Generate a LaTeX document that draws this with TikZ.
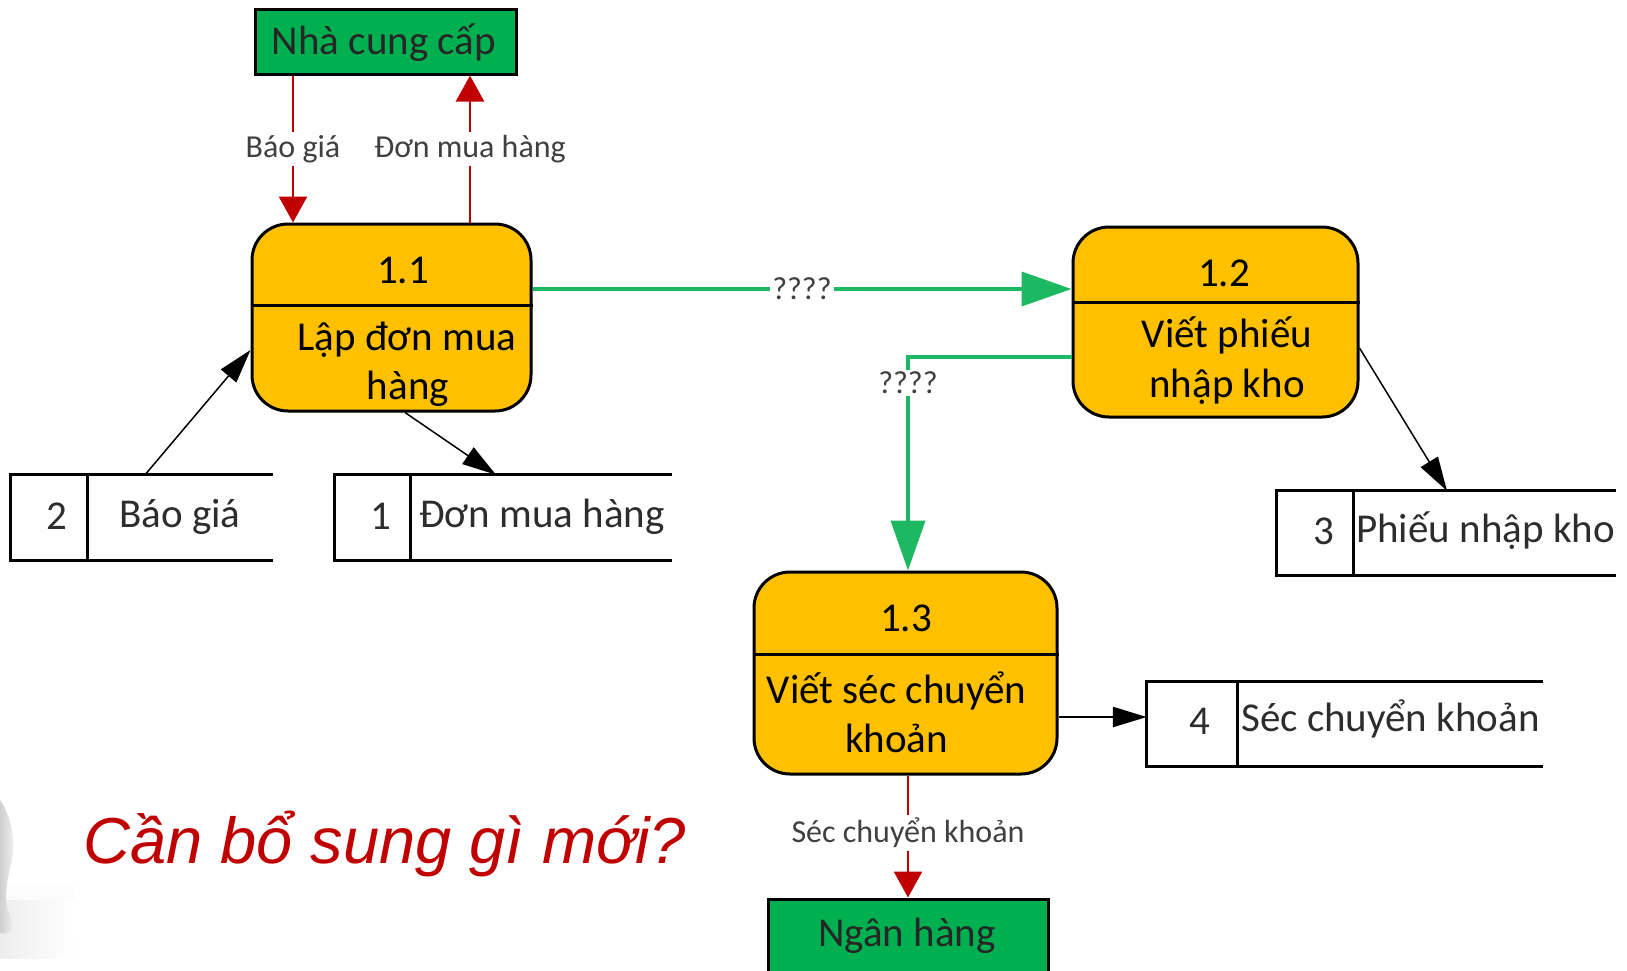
\documentclass[tikz,border=0pt]{standalone}
\usepackage{fontspec}
\setmainfont{Carlito}
\newfontfamily\qfont{Liberation Sans}
\usetikzlibrary{arrows.meta,calc}
\definecolor{procfill}{HTML}{FFC000}
\definecolor{extfill}{HTML}{00B050}
\definecolor{flowgreen}{HTML}{1DB862}
\definecolor{flowred}{HTML}{C00000}
\definecolor{labelgray}{HTML}{404040}
\begin{document}
\begin{tikzpicture}[x=1pt,y=-1pt,
  proc/.style={draw=black,line width=3pt,fill=procfill,rounded corners=36pt,inner sep=0pt},
  ext/.style={draw=black,line width=3pt,fill=extfill,inner sep=0pt},
  storebox/.style={inner sep=0pt},
  storeline/.style={line width=3pt,draw=black},
  big/.style={font=\fontsize{41}{49}\selectfont,inner sep=0pt,anchor=base},
  storetext/.style={font=\fontsize{41}{49}\selectfont,inner sep=0pt,anchor=base,text=labelgray!70!black},
  lbl/.style={font=\fontsize{32}{38}\selectfont,fill=white,inner sep=3pt,text=labelgray},
  redflow/.style={draw=flowred,line width=2.5pt,-{Triangle[length=26pt,width=28pt]}},
  greenflow/.style={draw=flowgreen,line width=4pt,-{Triangle[length=50pt,width=34pt]}},
  blackflow/.style={draw=black,line width=1.5pt,-{Triangle[length=34pt,width=20pt]}}
]
\clip (0,0) rectangle (1627,970);
\useasboundingbox (0,0) rectangle (1627,970);

% corner figure with its soft floor shadow
\shade[top color=white,bottom color=gray!14] (0,880) rectangle (74,958);
\shade[left color=gray!14,right color=white] (0,900) rectangle (74,958);
\shade[left color=gray!38,right color=gray!10]
  (0,800) .. controls (9,812) and (15,835) .. (13,852)
  .. controls (11,868) and (6,880) .. (6,900)
  .. controls (6,912) and (14,918) .. (12,928)
  .. controls (9,934) and (4,934) .. (0,933) -- cycle;

% external entities
\node[ext,minimum width=261pt,minimum height=65pt] (ncc) at (385.5,41.5) {};
\node[big,text=black!85] (ncct) at (384,54) {Nhà cung cấp};
\node[ext,minimum width=280pt,minimum height=110pt] (nh) at (908,954) {};
\node[big,text=black!85] (nht) at (907,946) {Ngân hàng};

% processes
\node[proc,minimum width=279pt,minimum height=187pt] (p1) at (391.5,317.5) {};
\draw[line width=3pt] ([yshift=-83pt]p1.north west) -- ([yshift=-83pt]p1.north east);
\node[big] (p1n) at (403,283) {1.1};
\node[big] (p1a) at (407,350) {Lập đơn mua};
\node[big] (p1b) at (408,399) {hàng};

\node[proc,minimum width=285pt,minimum height=190pt] (p2) at (1215.5,322) {};
\draw[line width=3pt] ([yshift=-77pt]p2.north west) -- ([yshift=-77pt]p2.north east);
\node[big] (p2n) at (1224,286) {1.2};
\node[big] (p2a) at (1227,347) {Viết phiếu};
\node[big] (p2b) at (1227,397) {nhập kho};

\node[proc,minimum width=303pt,minimum height=202pt] (p3) at (905.5,673) {};
\draw[line width=3pt] ([yshift=-84pt]p3.north west) -- ([yshift=-84pt]p3.north east);
\node[big] (p3n) at (906,631) {1.3};
\node[big] (p3a) at (896.5,703) {Viết séc chuyển};
\node[big] (p3b) at (896.5,752) {khoản};

% data stores
\node[storebox,minimum width=262pt,minimum height=85pt] (s2) at (142,517.5) {};
\draw[storeline] (s2.north east) -- (s2.north west) -- (s2.south west) -- (s2.south east);
\draw[storeline] ([xshift=77pt]s2.north west) -- ([xshift=77pt]s2.south west);
\node[storetext] (s2n) at (57,529) {2};
\node[storetext,anchor=base west] (s2t) at (119,527) {Báo giá};

\node[storebox,minimum width=337pt,minimum height=85pt] (s1) at (503.5,517.5) {};
\draw[storeline] (s1.north east) -- (s1.north west) -- (s1.south west) -- (s1.south east);
\draw[storeline] ([xshift=76pt]s1.north west) -- ([xshift=76pt]s1.south west);
\node[storetext] (s1n) at (381,529) {1};
\node[storetext,anchor=base west] (s1t) at (419,527) {Đơn mua hàng};

\node[storebox,minimum width=339pt,minimum height=84pt] (s3) at (1446.5,533) {};
\draw[storeline] (s3.north east) -- (s3.north west) -- (s3.south west) -- (s3.south east);
\draw[storeline] ([xshift=77pt]s3.north west) -- ([xshift=77pt]s3.south west);
\node[storetext] (s3n) at (1324,544) {3};
\node[storetext,anchor=base west] (s3t) at (1356,542) {Phiếu nhập kho};

\node[storebox,minimum width=396pt,minimum height=84pt] (s4) at (1345,724) {};
\draw[storeline] (s4.north east) -- (s4.north west) -- (s4.south west) -- (s4.south east);
\draw[storeline] ([xshift=91pt]s4.north west) -- ([xshift=91pt]s4.south west);
\node[storetext] (s4n) at (1200,734) {4};
\node[storetext,anchor=base west] (s4t) at (1241,731) {Séc chuyển khoản};

% flows with the supplier and the bank
\draw[redflow] ([xshift=-98.5pt]p1.north |- ncc.south) -- node[lbl] (lq) {Báo giá} ([xshift=-98.5pt]p1.north);
\draw[redflow] ([xshift=78.5pt]p1.north) -- node[lbl] (lo) {Đơn mua hàng} ([xshift=78.5pt]p1.north |- ncc.south);
\draw[redflow] ([xshift=2.5pt]p3.south) -- node[lbl,pos=0.47] (lc) {Séc chuyển khoản} ([xshift=2.5pt]p3.south |- nh.north);

% flows between processes
\draw[greenflow] ([yshift=28.5pt]p1.east) -- node[lbl,inner sep=2pt] (g1) {????} ([yshift=28.5pt]p1.east -| p2.west);
\draw[greenflow] ([yshift=-35pt]p2.west) -| node[lbl,pos=0.56,inner sep=2pt] (g2) {????} ([xshift=2.5pt]p3.north);

% flows to and from the data stores
\draw[blackflow] ([xshift=3pt]s2.north) -- ([yshift=-32.5pt]p1.west);
\draw[blackflow] ([xshift=13.5pt]p1.south) -- ([xshift=-7.5pt]s1.north);
\draw[blackflow] ([yshift=-26pt]p2.east) -- ([xshift=0.5pt]s3.north);
\draw[blackflow,line width=2.5pt] ([yshift=-44pt]p3.east) -- ([yshift=-44pt]p3.east -| s4.west);

% question
\node[font=\qfont\itshape\fontsize{65}{78}\selectfont,text=flowred,anchor=base west,inner sep=0pt] (q) at (83,863) {Cần bổ sung gì mới?};
\end{tikzpicture}
\end{document}
